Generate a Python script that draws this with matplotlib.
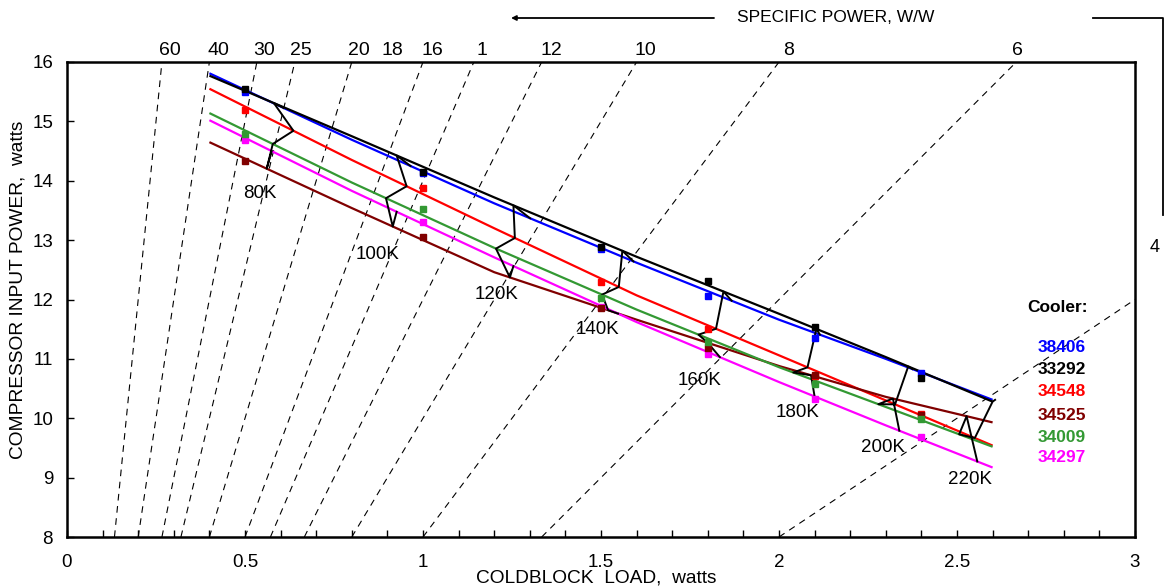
import numpy as np
import matplotlib
matplotlib.use("Agg")
import matplotlib.pyplot as plt
from matplotlib.lines import Line2D

plt.rcParams['font.family'] = ['Liberation Sans', 'DejaVu Sans']

# ---- data ----
coolers = ['38406', '33292', '34548', '34525', '34009', '34297']
colors = ['#0000FF', '#000000', '#FF0000', '#800000', '#339933', '#FF00FF']

# fitted curves (coldblock load W -> compressor power W)
q_fit = [0.4, 0.8, 1.2, 1.6, 2.0, 2.3, 2.6]
fit_38406 = [15.81, 14.69, 13.62, 12.62, 11.66, 11.00, 10.31]
fit_33292 = [15.77, 14.75, 13.72, 12.72, 11.76, 11.03, 10.28]
fit_34548 = [15.55, 14.35, 13.20, 12.07, 11.06, 10.30, 9.54]
fit_34525 = [14.65, 13.54, 12.46, 11.66, 10.88, 10.36, 9.93]
fit_34009 = [15.14, 13.97, 12.87, 11.83, 10.86, 10.19, 9.52]
fit_34297 = [15.02, 13.83, 12.71, 11.62, 10.61, 9.88, 9.17]

# measured points
q_pts = [0.5, 1.0, 1.5, 1.8, 2.1, 2.4]
pts_38406 = [15.49, 14.13, 12.85, 12.06, 11.36, 10.77]
pts_33292 = [15.54, 14.15, 12.88, 12.32, 11.53, 10.67]
pts_34548 = [15.19, 13.88, 12.29, 11.50, 10.72, 10.07]
pts_34525 = [14.34, 13.06, 11.86, 11.18, 10.73, 10.05]
pts_34009 = [14.79, 13.52, 12.03, 11.29, 10.57, 9.99]
pts_34297 = [14.69, 13.30, 11.88, 11.08, 10.32, 9.68]

# constant coldblock temperature: load where each cooler reaches T
temps = ['80K', '100K', '120K', '140K', '160K', '180K', '200K', '220K']
tq_38406 = [0.608, 0.965, 1.301, 1.591, 1.867, 2.115, 2.375, 2.607]
tq_33292 = [0.581, 0.926, 1.254, 1.560, 1.844, 2.105, 2.363, 2.600]
tq_34548 = [0.636, 0.954, 1.258, 1.550, 1.823, 2.080, 2.326, 2.550]
tq_34525 = [0.561, 0.915, 1.244, 1.520, 1.800, 2.090, 2.320, 2.527]
tq_34009 = [0.578, 0.896, 1.205, 1.503, 1.774, 2.040, 2.279, 2.506]
tq_34297 = [0.575, 0.926, 1.254, 1.548, 1.834, 2.100, 2.338, 2.557]
temp_label_q = [0.542, 0.871, 1.208, 1.489, 1.778, 2.051, 2.292, 2.537]
temp_label_p = [13.79, 12.75, 12.08, 11.49, 10.64, 10.09, 9.50, 8.96]

# specific power guide lines (W/W)
sp_lines = [60, 40, 30, 25, 20, 16, 14, 12, 10, 8, 6, 4]
sp_labels = ['60', '40', '30', '25', '20', '18', '16', '1', '12', '10', '8', '6']
sp_label_q = [0.289, 0.424, 0.553, 0.657, 0.820, 0.913, 1.025, 1.166, 1.362, 1.624, 2.028, 2.671]

fits = [fit_38406, fit_33292, fit_34548, fit_34525, fit_34009, fit_34297]
pts = [pts_38406, pts_33292, pts_34548, pts_34525, pts_34009, pts_34297]
tqs = [tq_38406, tq_33292, tq_34548, tq_34525, tq_34009, tq_34297]

W, H = 1165, 588
fig = plt.figure(figsize=(W / 100, H / 100), dpi=100)
ax = fig.add_axes([67 / W, 1 - 537 / H, (1135 - 67) / W, (537 - 62) / H])

# dashed specific power lines P = sp * Q
for sp in sp_lines:
    q = np.array([8.0 / sp, 16.0 / sp])
    ax.plot(q, sp * q, color='black', lw=0.8, dashes=(6, 5), zorder=1)

for lab, lq in zip(sp_labels, sp_label_q):
    ax.text(lq, 16.2, lab, fontsize=14, ha='center', va='center', clip_on=False)
ax.text(3.056, 12.88, '4', fontsize=13, ha='center', va='center', clip_on=False)

# fitted curves
for f, c in zip(fits, colors):
    ax.plot(q_fit, f, color=c, lw=1.6, zorder=3, solid_capstyle='butt')

# temperature zigzags: path order blue, black, red, green, brown, magenta
order = [0, 1, 2, 4, 3, 5]
for i in range(len(temps)):
    xs = [tqs[k][i] for k in order]
    ys = [np.interp(tqs[k][i], q_fit, fits[k]) for k in order]
    ax.plot(xs, ys, color='black', lw=1.4, zorder=4)
    ax.text(temp_label_q[i], temp_label_p[i], temps[i], fontsize=13.5,
            ha='center', va='center', zorder=5)

# measured points
for k in [0, 1, 2, 5, 3, 4]:
    ax.plot(q_pts, pts[k], ls='none', marker='s', ms=4.5, color=colors[k],
            mec=colors[k], zorder=6)

ax.set_xlim(0, 3)
ax.set_ylim(8, 16)
ax.set_xticks(np.arange(0, 3.01, 0.5))
ax.set_xticklabels(['0', '0.5', '1', '1.5', '2', '2.5', '3'])
ax.set_xticks(np.arange(0, 3.01, 0.1), minor=True)
ax.set_yticks(np.arange(8, 16.01, 1))
ax.tick_params(axis='x', which='both', direction='in', length=5, width=1,
               labelsize=13.5, pad=12)
ax.tick_params(axis='y', which='both', direction='in', length=5, width=1,
               labelsize=13.5, pad=10)
for s in ax.spines.values():
    s.set_linewidth(1.8)

# legend as text
fig.text(1088 / W, 1 - 308 / H, 'Cooler:', fontsize=12.5, fontweight='bold',
         ha='right', va='center')
leg_y = [348, 370, 392, 415, 437, 458]
for name, c, yy in zip(coolers, colors, leg_y):
    fig.text(1086 / W, 1 - yy / H, name, fontsize=12.5, fontweight='bold',
             color=c, ha='right', va='center')

# axis titles
fig.text(596 / W, 1 - 578 / H, 'COLDBLOCK  LOAD,  watts', fontsize=13.75,
         ha='center', va='center')
fig.text(18 / W, 1 - 290 / H, 'COMPRESSOR INPUT POWER,  watts', fontsize=13.75,
         ha='center', va='center', rotation=90)

# specific power header with arrow
fig.text(836 / W, 1 - 18 / H, 'SPECIFIC POWER, W/W', fontsize=12.5,
         ha='center', va='center')
ax.annotate('', xy=(511 / W, 1 - 18 / H), xytext=(714 / W, 1 - 18 / H),
            xycoords='figure fraction', textcoords='figure fraction',
            arrowprops=dict(arrowstyle='-|>', lw=1.3, color='black',
                            mutation_scale=7, shrinkA=0, shrinkB=0))
fig.add_artist(Line2D([1093 / W, 1163 / W, 1163 / W],
                      [1 - 18 / H, 1 - 18 / H, 1 - 215 / H],
                      color='black', lw=1.3, transform=fig.transFigure))

fig.savefig('out.png', dpi=100)
